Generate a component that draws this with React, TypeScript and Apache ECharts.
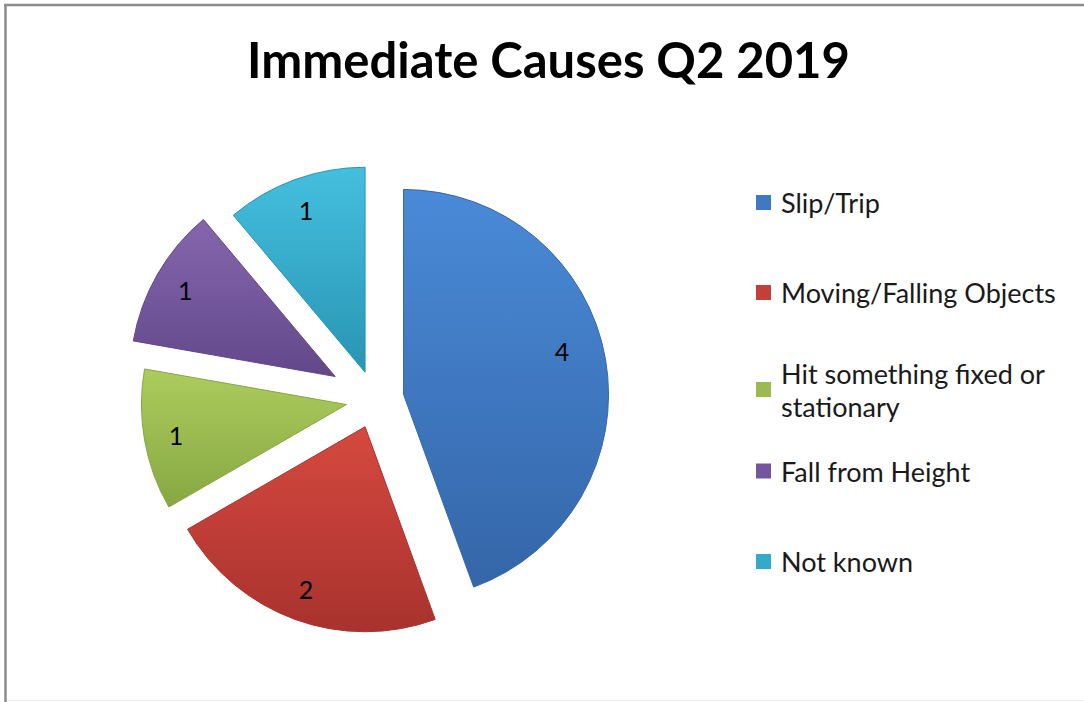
import { useEffect, useRef } from "react";
import * as echarts from "echarts";

const titleText = "Immediate Causes Q2 2019";
const categories = [
  "Slip/Trip",
  "Moving/Falling Objects",
  "Hit something fixed or stationary",
  "Fall from Height",
  "Not known",
];
const values = [4, 2, 1, 1, 1];
const legendLabels = [
  "Slip/Trip",
  "Moving/Falling Objects",
  "Hit something fixed or\nstationary",
  "Fall from Height",
  "Not known",
];
const topColors = ["#4a8ad8", "#d6493f", "#adcc5e", "#8566ae", "#45bfdf"];
const bottomColors = ["#3466a8", "#a8322e", "#87a742", "#62488a", "#2895b3"];
const legendColors = ["#3f79c4", "#c43f3a", "#9bbb50", "#7456a0", "#35a9c9"];
const moreExploded = "Fall from Height";

export default function App() {
  const ref = useRef<HTMLDivElement>(null);
  useEffect(() => {
    const chart = echarts.init(ref.current!, null, { renderer: "svg" });
    const grad = (i: number) =>
      new echarts.graphic.LinearGradient(0, 0, 0, 1, [
        { offset: 0, color: topColors[i] },
        { offset: 1, color: bottomColors[i] },
      ]);
    const transparent = { color: "rgba(0,0,0,0)", borderWidth: 0 };
    const center = [375, 399.5];
    const R = 205;
    const isMore = (i: number) => categories[i] === moreExploded;
    const labelFont = { fontFamily: "Lato", fontSize: 25, color: "#000" };

    const mkData = (
      show: (i: number) => boolean,
      colored: boolean,
      withLabel: boolean
    ) =>
      categories.map((name, i) => {
        const style =
          colored && show(i)
            ? { color: grad(i), borderColor: bottomColors[i], borderWidth: 1 }
            : transparent;
        return {
          name,
          value: values[i],
          selected: show(i),
          itemStyle: style,
          select: { itemStyle: style },
          label: {
            show: withLabel && show(i),
            formatter: i === 0 ? "{a|{c}}" : "{c}",
            rich: { a: { ...labelFont, padding: [0, 24, 26, 0] } },
          },
        };
      });

    const base = {
      type: "pie" as const,
      center,
      startAngle: 90,
      clockwise: true,
      selectedMode: "multiple" as const,
      silent: true,
      avoidLabelOverlap: false,
      emphasis: { disabled: true },
      labelLine: { show: false },
      animation: false,
    };
    const labelStyle = {
      position: "inside" as const,
      ...labelFont,
    };

    chart.setOption({
      animation: false,
      backgroundColor: "#fff",
      title: {
        text: titleText,
        left: 247,
        top: 34,
        padding: 0,
        textStyle: {
          fontFamily: "Lato",
          fontWeight: "bold",
          fontSize: 49,
          lineHeight: 49,
          color: "#000",
        },
      },
      legend: categories.map((name, i) => {
        const multi = legendLabels[i].includes("\n");
        const iconCenters = [202.5, 292.5, 389.5, 471, 561.5];
        return {
          data: [{ name, itemStyle: { color: legendColors[i], borderWidth: 0 } }],
          orient: "vertical",
          left: 756,
          top: multi ? iconCenters[i] - 49.5 : iconCenters[i] - 15,
          padding: 0,
          itemWidth: 15,
          itemHeight: 15,
          icon: "rect",
          selectedMode: false,
          formatter: () => legendLabels[i],
          textStyle: {
            fontFamily: "Lato",
            fontSize: 27,
            color: "#1a1a1a",
            lineHeight: multi ? 33 : 30,
            padding: multi ? [33, 0, 0, 5] : [0, 0, 0, 5],
          },
        };
      }),
      graphic: [
        { type: "line", shape: { x1: 5.5, y1: 4, x2: 5.5, y2: 702 }, style: { stroke: "#8c8c8c", lineWidth: 2.5 } },
        { type: "line", shape: { x1: 4, y1: 5, x2: 1084, y2: 5 }, style: { stroke: "#8c8c8c", lineWidth: 2.5 } },
        { type: "line", shape: { x1: 7, y1: 700.5, x2: 1084, y2: 700.5 }, style: { stroke: "#ececec", lineWidth: 1 } },
      ],
      series: [
        {
          ...base,
          name: "slices",
          radius: [0, R],
          selectedOffset: 29,
          label: { show: false },
          data: mkData((i) => !isMore(i), true, false),
        },
        {
          ...base,
          name: "slicesMore",
          radius: [0, R],
          selectedOffset: 46,
          label: { show: false },
          data: mkData((i) => isMore(i), true, false),
        },
        {
          ...base,
          name: "labels",
          radius: [150, 190],
          selectedOffset: 29,
          label: labelStyle,
          data: mkData((i) => !isMore(i), false, true),
        },
        {
          ...base,
          name: "labelsMore",
          radius: [150, 190],
          selectedOffset: 46,
          label: labelStyle,
          data: mkData((i) => isMore(i), false, true),
        },
      ],
    });
    return () => chart.dispose();
  }, []);
  return (
    <div
      ref={ref}
      style={{ position: "fixed", left: 0, top: 0, width: 1084, height: 702, background: "#fff" }}
    />
  );
}
